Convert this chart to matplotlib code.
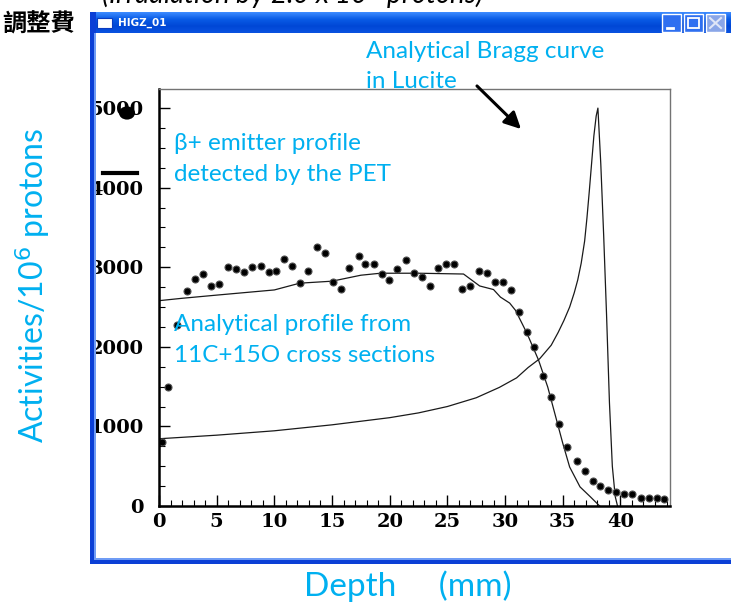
import numpy as np
import matplotlib
matplotlib.use("Agg")
import matplotlib.pyplot as plt
from matplotlib.patches import Rectangle, Circle, FancyArrowPatch
from matplotlib.lines import Line2D

# beta+ emitter profile measured by the PET (depth mm, activity / 1e6 protons)
pet_depth = [0.25, 0.8, 1.6, 2.4, 3.1, 3.8, 4.5, 5.2, 6.0, 6.7, 7.4, 8.1, 8.8,
             9.5, 10.1, 10.8, 11.5, 12.2, 12.9, 13.7, 14.4, 15.1, 15.8, 16.5,
             17.3, 17.9, 18.6, 19.3, 19.9, 20.6, 21.4, 22.1, 22.8, 23.5, 24.2,
             24.9, 25.6, 26.3, 27.0, 27.7, 28.4, 29.1, 29.8, 30.5, 31.2, 31.9,
             32.5, 33.3, 34.0, 34.7, 35.4, 36.2, 36.9, 37.6, 38.2, 38.9, 39.6,
             40.3, 41.0, 41.8, 42.5, 43.2, 43.8]
pet_act = [800, 1495, 2270, 2700, 2850, 2915, 2765, 2790, 3000, 2975, 2940,
           3000, 3015, 2940, 2950, 3100, 3015, 2800, 2950, 3250, 3180, 2820,
           2725, 2990, 3140, 3040, 3040, 2915, 2840, 2980, 3090, 2925, 2875,
           2765, 2990, 3040, 3040, 2725, 2765, 2950, 2925, 2815, 2815, 2720,
           2440, 2185, 2000, 1630, 1370, 1030, 740, 565, 440, 315, 250, 200,
           175, 150, 150, 100, 100, 100, 90]

# analytical profile from 11C + 15O cross sections
prof_depth = [0.0, 2.0, 5.0, 10.0, 12.2, 15.0, 17.5, 19.2, 22.5, 26.4, 27.8,
              29.0, 29.6, 30.4, 30.9, 31.9, 32.9, 33.7, 34.3, 35.0, 35.6, 36.5,
              37.4, 38.2]
prof_act = [2580, 2610, 2650, 2715, 2800, 2825, 2900, 2925, 2925, 2915, 2765,
            2720, 2625, 2550, 2460, 2170, 1835, 1495, 1170, 790, 490, 240,
            115, 0]

# analytical Bragg curve in Lucite
bragg_depth = [0.0, 5.0, 10.0, 15.0, 20.0, 22.5, 25.0, 27.5, 29.5, 31.0, 32.0,
               33.0, 34.0, 34.6, 35.1, 35.6, 36.0, 36.3, 36.6, 36.9, 37.1,
               37.3, 37.5, 37.7, 37.9, 38.05, 38.3, 38.55, 38.8, 39.05, 39.3,
               39.55, 39.75]
bragg_act = [845, 890, 945, 1020, 1110, 1170, 1250, 1360, 1490, 1610, 1740,
             1850, 2020, 2180, 2330, 2500, 2680, 2840, 3050, 3330, 3620, 3950,
             4300, 4650, 4900, 5000, 4300, 3400, 2400, 1300, 500, 120, 0]

xticks = [0, 5, 10, 15, 20, 25, 30, 35, 40]
yticks = [0, 1000, 2000, 3000, 4000, 5000]

CYAN = "#00B0F0"
W, H = 731, 603


def fx(px):
    return px / W


def fy(py):
    return 1 - py / H


def rect(x0, y0, x1, y1, **kw):
    # rectangle given in picture pixels (top-left origin)
    fig.add_artist(Rectangle((fx(x0), fy(y1)), fx(x1) - fx(x0), fy(y0) - fy(y1),
                             transform=fig.transFigure, **kw))


def seg(x0, y0, x1, y1, **kw):
    fig.add_artist(Line2D([fx(x0), fx(x1)], [fy(y0), fy(y1)],
                          transform=fig.transFigure, **kw))


fig = plt.figure(figsize=(7.31, 6.03), dpi=100)

# --- HIGZ window decoration ------------------------------------------------- #
bar = fig.add_axes([fx(90), fy(33), fx(731) - fx(90), (33 - 12) / H])
grad = np.linspace(0, 1, 40)[:, None]
bar.imshow(grad, aspect="auto", cmap=matplotlib.colors.LinearSegmentedColormap.from_list(
    "xp", ["#3d8bff", "#0a5ce6", "#0047d6", "#0a52e0"]), extent=[0, 1, 0, 1])
bar.set_axis_off()
rect(90, 12, 96, 563, color="#0b3fd6", lw=0)
rect(94, 33, 96, 560, color="#6f9cf5", lw=0)
rect(90, 559, 731, 564, color="#0b3fd6", lw=0)
rect(94, 558, 731, 560, color="#6f9cf5", lw=0)
rect(97, 18, 112, 28, facecolor="white", edgecolor="#0a3cc0", lw=0.8)
fig.text(fx(118), fy(23), "HIGZ_01", color="white", fontsize=7.5,
         fontweight="bold", va="center", ha="left", family="DejaVu Sans")
for i, x0 in enumerate([662, 684, 706]):
    fc = "#2f6ff0" if i < 2 else "#8aa6e8"
    rect(x0, 14, x0 + 19, 32, facecolor=fc, edgecolor="white", lw=1.0)
seg(667, 28, 673, 28, color="white", lw=2)
rect(688, 18, 699, 28, facecolor="none", edgecolor="white", lw=1.3)
seg(710, 18, 721, 28, color="#dfe6f7", lw=1.5)
seg(710, 28, 721, 18, color="#dfe6f7", lw=1.5)

# --- slide text outside the window ------------------------------------------ #
fig.text(fx(75), fy(25), "調整費", ha="right", va="center", fontsize=17.5,
         fontweight="bold", family=["Noto Sans CJK TC", "DejaVu Sans"])
fig.text(fx(292), fy(4), "(Irradiation by 2.0 x 10$^{9}$ protons)", ha="center",
         va="baseline", fontsize=20, style="italic", family="Lato")

# --- the plot --------------------------------------------------------------- #
ax = fig.add_axes([fx(159), fy(506), fx(670) - fx(159), fy(89) - fy(506)])
ax.plot(bragg_depth, bragg_act, "-", color="0.1", lw=0.9)
ax.plot(prof_depth, prof_act, "-", color="0.1", lw=0.9)
ax.plot(pet_depth, pet_act, "o", ms=5, mfc="k", mec="0.3", mew=0.8)
ax.set_xlim(0, 44.3)
ax.set_ylim(0, 5240)
ax.set_xticks(xticks)
ax.set_yticks(yticks)
ax.set_xticks(np.arange(0, 45, 1), minor=True)
ax.set_yticks(np.arange(0, 5250, 250), minor=True)
ax.tick_params(which="major", direction="in", length=8, width=1.0,
               labelsize=14, pad=5)
ax.tick_params(axis="y", which="major", pad=11)
ax.tick_params(which="minor", direction="in", length=4, width=0.8)
for lab in ax.get_xticklabels() + ax.get_yticklabels():
    lab.set_fontweight("bold")
    lab.set_family("DejaVu Serif")
for s in ("left", "bottom"):
    ax.spines[s].set_linewidth(1.8)
for s in ("top", "right"):
    ax.spines[s].set_linewidth(1.0)
    ax.spines[s].set_color("0.45")

# --- annotations ------------------------------------------------------------ #
fs = 17.5
notes = [(366, 58, "Analytical Bragg curve"), (366, 88, "in Lucite"),
         (174, 150, "β+ emitter profile"), (174, 181, "detected by the PET"),
         (174, 331, "Analytical profile from"), (174, 362, "11C+15O cross sections")]
for px, py, txt in notes:
    fig.text(fx(px), fy(py), txt, color=CYAN, fontsize=fs, family="Lato",
             ha="left", va="baseline")
fig.text(fx(33), fy(285), "Activities/10$^{6}$ protons", color=CYAN, fontsize=23,
         family="Lato", rotation=90, ha="center", va="center")
fig.text(fx(408), fy(586), "Depth     (mm)", color=CYAN, fontsize=24,
         family="Lato", ha="center", va="center")
fig.add_artist(FancyArrowPatch(
    (fx(475), fy(84)), (fx(523), fy(131)), transform=fig.transFigure,
    arrowstyle="-|>,head_length=10,head_width=5", color="k", lw=2.2))

# stray marks left on the slide next to the axis labels
fig.add_artist(Circle((fx(127), fy(113)), 8 / W, transform=fig.transFigure,
                      color="k", lw=0))
seg(103, 173, 137, 173, color="k", lw=3)

fig.savefig("out.png", dpi=100)
